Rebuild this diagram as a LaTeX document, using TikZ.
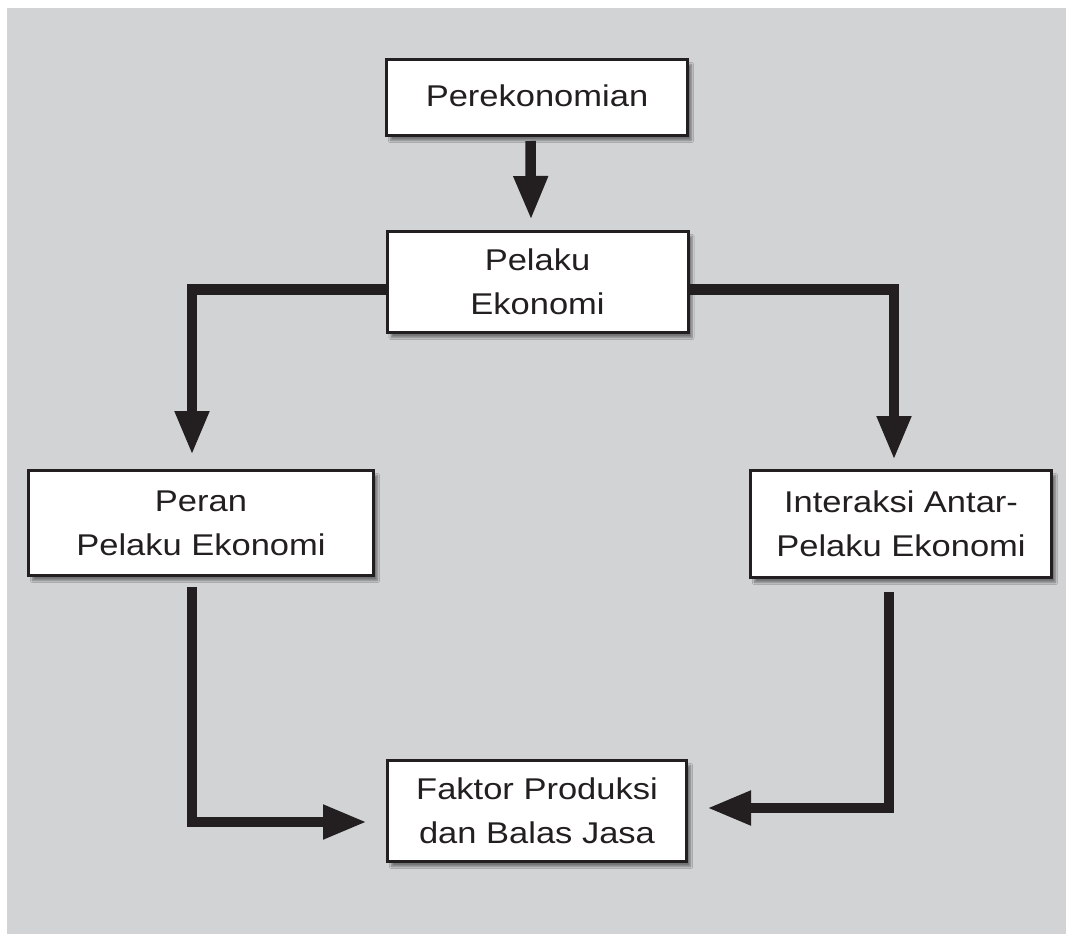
\documentclass[tikz,border=0pt]{standalone}
\usepackage{fontspec}
\setmainfont{Liberation Sans}[FakeStretch=1.15]
\usetikzlibrary{arrows.meta,shadows.blur}
\definecolor{bggray}{RGB}{209,211,212}
\definecolor{ink}{RGB}{35,31,32}
\tikzset{
  box/.style={draw=ink, line width=3pt, fill=white, rectangle, inner sep=0pt,
    align=center, text=ink, font=\fontsize{30pt}{44pt}\selectfont,
    blur shadow={shadow xshift=4pt, shadow yshift=-5pt, shadow blur steps=6, shadow opacity=45}},
  arr/.style={draw=ink, line width=10.5pt, line join=miter,
    -{Triangle[length=44pt,width=32pt]}}
}
\begin{document}
\begin{tikzpicture}[x=1pt,y=-1pt]
\useasboundingbox (0,0) rectangle (1066,934);
\fill[bggray] (7,8) rectangle (1066,934);

\node[box, minimum width=301pt, minimum height=76pt] (per) at (537,97.5) {\raisebox{3pt}{Perekonomian}};
\node[box, minimum width=301pt, minimum height=101pt] (pel) at (537.5,282) {Pelaku\\Ekonomi};
\node[box, minimum width=345pt, minimum height=105pt] (peran) at (201,523) {Peran\\Pelaku Ekonomi};
\node[box, minimum width=301pt, minimum height=107pt] (inter) at (901,524) {Interaksi Antar-\\Pelaku Ekonomi};
\node[box, minimum width=299pt, minimum height=101pt] (fak) at (537,811) {Faktor Produksi\\dan Balas Jasa};

\coordinate (a1) at ([xshift=-9pt,yshift=14pt]peran.north);
\coordinate (b1) at ([xshift=-7pt,yshift=9pt]inter.north);
\coordinate (c1) at ([xshift=-19pt,yshift=-11pt]fak.west);
\coordinate (d1) at ([xshift=19pt,yshift=3pt]fak.east);

\draw[arr] ([xshift=-6.5pt,yshift=-4pt]per.south) -- ([xshift=-6.5pt,yshift=10pt]pel.north);
\draw[arr] ([yshift=-7.5pt]pel.west) -| (a1);
\draw[arr] ([yshift=-7.5pt]pel.east) -| (b1);
\draw[arr] ([xshift=-9pt,yshift=-10pt]peran.south) |- (c1);
\draw[arr] ([xshift=-12pt,yshift=-13pt]inter.south) |- (d1);
\end{tikzpicture}
\end{document}
